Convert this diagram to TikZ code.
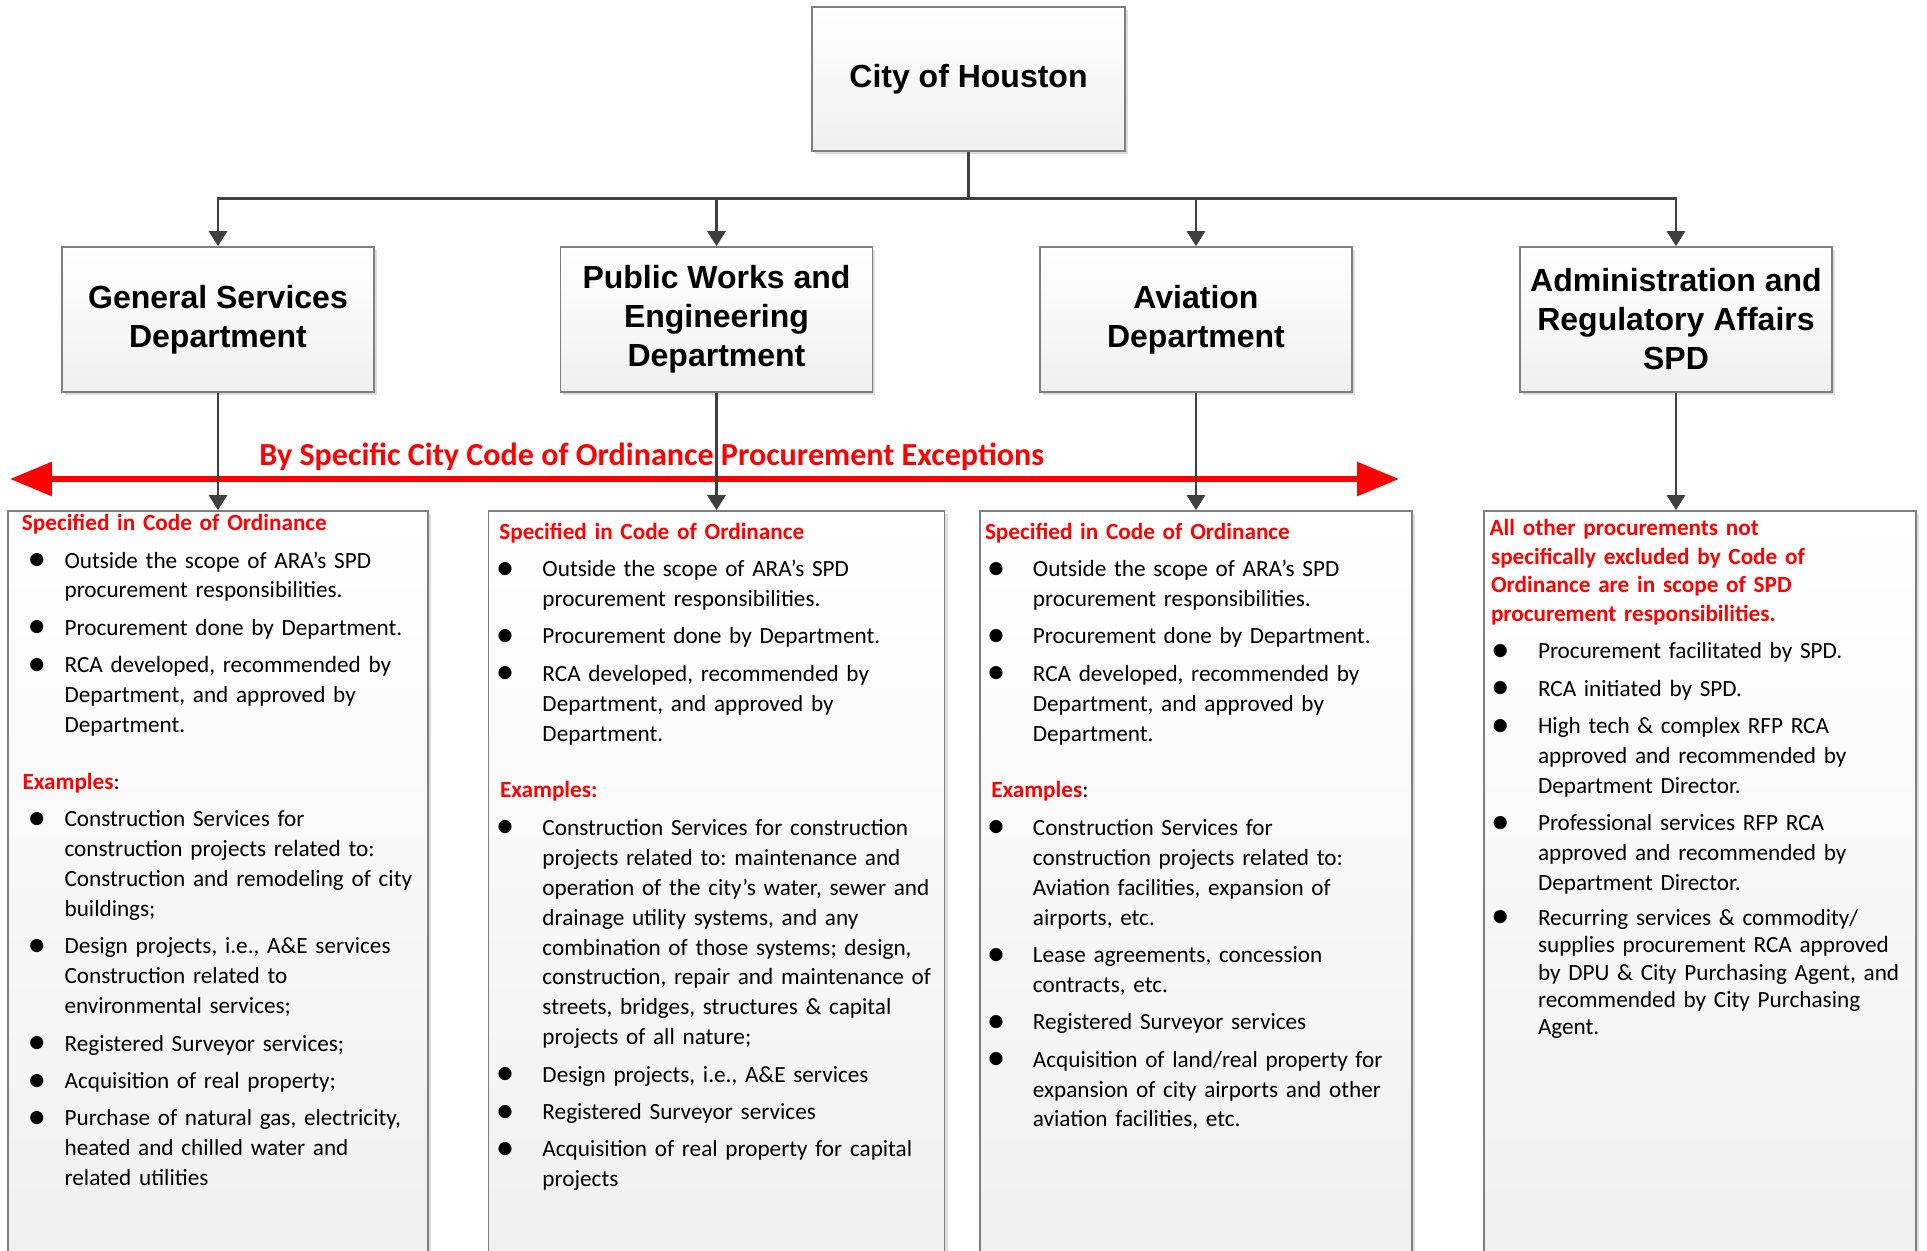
\documentclass[tikz,border=0pt]{standalone}
\usepackage{fontspec}
\setmainfont{Carlito}
\newfontfamily\headfont{Liberation Sans}
\usetikzlibrary{arrows.meta, positioning, shadows}
\definecolor{boxline}{HTML}{7F7F7F}
\definecolor{connline}{HTML}{404040}
\tikzstyle{topbox} = [
rectangle, draw=boxline, line width=0.8pt, top color=white, bottom color=gray!12,
drop shadow={shadow xshift=1.5pt, shadow yshift=-1.5pt, fill=gray!45, opacity=0.6},
align=center, font=\headfont\bfseries\fontsize{16}{19.5}\selectfont
]
\tikzstyle{deptbox} = [topbox, minimum width=156pt, minimum height=72.5pt]
\tikzstyle{listbox} = [
rectangle, draw=boxline, line width=0.8pt, top color=white, bottom color=gray!12,
drop shadow={shadow xshift=1.5pt, shadow yshift=-1.5pt, fill=gray!45, opacity=0.6},
minimum height=384pt
]
\tikzstyle{listtext} = [inner sep=0pt, anchor=north west, text width=240pt, font=\fontsize{11.6}{14.95}\selectfont\frenchspacing]
\tikzstyle{connector} = [connline, line width=1.4pt, -{Triangle[length=7.5pt,width=9pt]}]
\tikzstyle{excarrow} = [red, line width=3pt, {Triangle[length=21pt,width=16.5pt]}-{Triangle[length=21pt,width=16.5pt]}]
\tikzstyle{exclabel} = [text=red, inner sep=0pt, font=\bfseries\fontsize{16.05}{18}\selectfont]

\newlength{\bhang}
\newcommand{\bdot}{\raisebox{-1.3pt}{\scalebox{1.6}{\textbullet}}}
\newcommand{\bitem}[1]{\par\vspace{3.75pt}\noindent\hangindent=\bhang\hangafter=1\makebox[\bhang][l]{\bdot}#1\par}
\newcommand{\spechead}[1]{\noindent\rule{0pt}{10pt}\hspace*{#1}\textcolor{red}{\textbf{Specified in Code of Ordinance}}\par}

\begin{document}
\begin{tikzpicture}[node distance=120.25pt]
			\useasboundingbox (-484.25pt,39.5pt) rectangle (479.25pt,-586pt);

			% Top and departments
			\node (city) [topbox, minimum width=156.5pt, minimum height=72pt] at (0,0) {City of Houston};
			\node (gsd) [deptbox, below of=city, xshift=-375.25pt] {General Services\\Department};
			\node (pwe) [deptbox, below of=city, xshift=-126pt] {Public Works and\\Engineering\\Department};
			\node (avi) [deptbox, below of=city, xshift=113.75pt] {Aviation\\Department};
			\node (ara) [deptbox, below of=city, xshift=353.75pt] {Administration and\\Regulatory Affairs\\SPD};

			% Lists
			\node (gsdbox) [listbox, minimum width=210pt, below of=gsd, yshift=-167.5pt] {};
			\node (pwebox) [listbox, minimum width=228pt, below of=pwe, yshift=-167.5pt] {};
			\node (avibox) [listbox, minimum width=216pt, below of=avi, yshift=-167.5pt] {};
			\node (arabox) [listbox, minimum width=216pt, below of=ara, xshift=12pt, yshift=-167.5pt] {};

			\node (gsdtext) [listtext, xshift=10pt] at (gsdbox.north west) {\setlength{\bhang}{18.5pt}%
				\spechead{-2.8pt}%
				\bitem{Outside the scope of ARA’s SPD\newline procurement responsibilities.}%
				\bitem{Procurement done by Department.}%
				\bitem{RCA developed, recommended by\newline Department, and approved by\newline Department.}%
				\par\vspace{13.5pt}\noindent\hspace*{-2.5pt}\textcolor{red}{\textbf{Examples}}:\par
				\bitem{Construction Services for\newline construction projects related to:\newline Construction and remodeling of city\newline buildings;}%
				\bitem{Design projects, i.e., A\&E services\newline Construction related to\newline environmental services;}%
				\bitem{Registered Surveyor services;}%
				\bitem{Acquisition of real property;}%
				\bitem{Purchase of natural gas, electricity,\newline heated and chilled water and\newline related utilities}};
			\node (pwetext) [listtext, xshift=3.85pt, yshift=-4.3pt] at (pwebox.north west) {\setlength{\bhang}{23.35pt}%
				\spechead{1.8pt}%
				\bitem{Outside the scope of ARA’s SPD\newline procurement responsibilities.}%
				\bitem{Procurement done by Department.}%
				\bitem{RCA developed, recommended by\newline Department, and approved by\newline Department.}%
				\par\vspace{13.5pt}\noindent\hspace*{2.15pt}\textcolor{red}{\textbf{Examples:}}\par
				\bitem{Construction Services for construction\newline projects related to: maintenance and\newline operation of the city’s water, sewer and\newline drainage utility systems, and any\newline combination of those systems; design,\newline construction, repair and maintenance of\newline streets, bridges, structures \& capital\newline projects of all nature;}%
				\bitem{Design projects, i.e., A\&E services}%
				\bitem{Registered Surveyor services}%
				\bitem{Acquisition of real property for capital\newline projects}};
			\node (avitext) [listtext, xshift=3.65pt, yshift=-4.3pt] at (avibox.north west) {\setlength{\bhang}{23pt}%
				\spechead{-0.95pt}%
				\bitem{Outside the scope of ARA’s SPD\newline procurement responsibilities.}%
				\bitem{Procurement done by Department.}%
				\bitem{RCA developed, recommended by\newline Department, and approved by\newline Department.}%
				\par\vspace{13.5pt}\noindent\hspace*{2.2pt}\textcolor{red}{\textbf{Examples}}:\par
				\bitem{Construction Services for\newline construction projects related to:\newline Aviation facilities, expansion of\newline airports, etc.}%
				\bitem{Lease agreements, concession\newline contracts, etc.}%
				\bitem{Registered Surveyor services}%
				\bitem{Acquisition of land/real property for\newline expansion of city airports and other\newline aviation facilities, etc.}};
			\node (aratext) [listtext, xshift=3.7pt, yshift=-2.45pt] at (arabox.north west) {\setlength{\bhang}{23.5pt}%
				{\fontsize{11.6}{14.3}\selectfont\noindent\rule{0pt}{10pt}\hspace*{-0.7pt}\textcolor{red}{\textbf{All other procurements not\newline specifically excluded by Code of\newline Ordinance are in scope of SPD\newline procurement responsibilities.}}\par}%
				\bitem{Procurement facilitated by SPD.}%
				\bitem{RCA initiated by SPD.}%
				\bitem{High tech \& complex RFP RCA\newline approved and recommended by\newline Department Director.}%
				\bitem{Professional services RFP RCA\newline approved and recommended by\newline Department Director.}%
				\bitem{\fontsize{11.6}{13.7}\selectfont Recurring services \& commodity/\newline supplies procurement RCA approved\newline by DPU \& City Purchasing Agent, and\newline recommended by City Purchasing\newline Agent.}};

			% Exceptions arrow
			\coordinate (excleft) at (-479.25pt,-200pt);
			\coordinate (excright) at (215.25pt,-200pt);
			\draw [excarrow] (excleft) -- (excright);
			\node (exctitle) [exclabel, anchor=base west] at ([xshift=124.5pt, yshift=6.8pt]excleft) {By Specific City Code of Ordinance Procurement Exceptions};

			% Connections
			\draw [connector] (city.south) -- ++(0,-23.5pt) -| (gsd.north);
			\draw [connector] (city.south) -- ++(0,-23.5pt) -| (pwe.north);
			\draw [connector] (city.south) -- ++(0,-23.5pt) -| (avi.north);
			\draw [connector] (city.south) -- ++(0,-23.5pt) -| (ara.north);
			\draw [connector] (gsd.south) -- (gsdbox.north);
			\draw [connector] (pwe.south) -- (pwebox.north);
			\draw [connector] (avi.south) -- (avibox.north);
			\draw [connector] (ara.south) -- (ara.south |- arabox.north);

\end{tikzpicture}
\end{document}
